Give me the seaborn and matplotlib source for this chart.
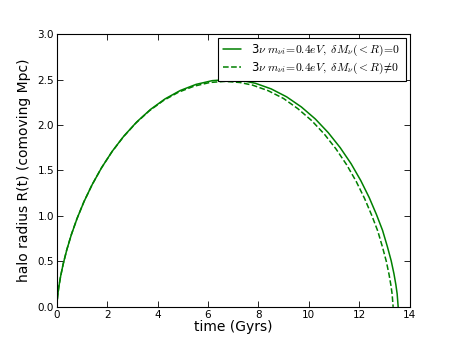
import numpy as np
import pandas as pd
import matplotlib
matplotlib.use("Agg")
import matplotlib.pyplot as plt
import seaborn as sns

# values
t_solid = [0, 0.0097, 0.0324, 0.0763, 0.1475, 0.2517, 0.3938, 0.578, 0.807, 1.084,
           1.409, 1.782, 2.202, 2.667, 3.174, 3.719, 4.297, 4.901, 5.526, 6.166,
           6.775, 7.372, 7.884, 8.512, 9.122, 9.706, 10.259, 10.775, 11.249, 11.680,
           12.064, 12.399, 12.686, 12.930, 13.120, 13.273, 13.383, 13.460, 13.510, 13.550]
r_solid = [0, 0.0559, 0.1245, 0.2184, 0.3354, 0.473, 0.628, 0.797, 0.976, 1.162,
           1.349, 1.534, 1.713, 1.881, 2.035, 2.172, 2.288, 2.380, 2.447, 2.488,
           2.500, 2.488, 2.459, 2.397, 2.310, 2.199, 2.067, 1.916, 1.751, 1.575,
           1.390, 1.203, 1.017, 0.842, 0.664, 0.507, 0.364, 0.242, 0.143, 0]

t_dash = [0, 0.0096, 0.0319, 0.0752, 0.1453, 0.248, 0.388, 0.569, 0.795, 1.068,
          1.388, 1.756, 2.169, 2.628, 3.127, 3.664, 4.233, 4.828, 5.444, 6.075,
          6.675, 7.263, 7.767, 8.386, 8.999, 9.562, 10.107, 10.616, 11.082, 11.507,
          11.885, 12.215, 12.498, 12.739, 12.926, 13.077, 13.185, 13.261, 13.310, 13.350]
r_dash = [0, 0.0555, 0.1235, 0.2167, 0.3327, 0.469, 0.623, 0.791, 0.968, 1.153,
          1.338, 1.522, 1.699, 1.866, 2.019, 2.155, 2.270, 2.361, 2.427, 2.468,
          2.480, 2.468, 2.439, 2.378, 2.292, 2.181, 2.051, 1.901, 1.737, 1.562,
          1.379, 1.193, 1.009, 0.835, 0.659, 0.503, 0.361, 0.240, 0.142, 0]

x_ticks = [0, 2, 4, 6, 8, 10, 12, 14]
y_ticks = [0.0, 0.5, 1.0, 1.5, 2.0, 2.5, 3.0]

lbl_solid = '3' + r'$\nu\ m_{\nu i}\!=\!0.4eV,\ \delta M_\nu(<R)\!=\!0$'
lbl_dash = '3' + r'$\nu\ m_{\nu i}\!=\!0.4eV,\ \delta M_\nu(<R)\!\neq\!0$'

sns.set_style("ticks")
plt.rcParams['font.family'] = ['DejaVu Sans']
plt.rcParams['mathtext.fontset'] = 'cm'
plt.rcParams['xtick.direction'] = 'in'
plt.rcParams['ytick.direction'] = 'in'
for k in ['text.color', 'axes.labelcolor', 'xtick.color', 'ytick.color']:
    plt.rcParams[k] = 'black'

df_s = pd.DataFrame({'t': t_solid, 'r': r_solid})
df_d = pd.DataFrame({'t': t_dash, 'r': r_dash})

fig = plt.figure(figsize=(4.55, 3.41), dpi=100)
ax = fig.add_axes([0.125, 0.1, 0.775, 0.8])

green = (0, 0.5, 0)
sns.lineplot(data=df_s, x='t', y='r', ax=ax, color=green, lw=1.1, sort=False,
             estimator=None, label=lbl_solid)
sns.lineplot(data=df_d, x='t', y='r', ax=ax, color=green, lw=1.1, sort=False,
             estimator=None, label=lbl_dash, linestyle='--')

ax.set_xlim(0, 14)
ax.set_ylim(0, 3.0)
ax.set_xticks(x_ticks)
ax.set_yticks(y_ticks)
ax.set_xticklabels([str(v) for v in x_ticks])
ax.set_yticklabels([f'{v:.1f}' for v in y_ticks])
ax.tick_params(labelsize=7.5, top=True, right=True, length=4, width=0.6, pad=2)
for s in ax.spines.values():
    s.set_linewidth(0.8)
    s.set_color('black')

ax.set_xlabel('time (Gyrs)', fontsize=10, labelpad=0)
ax.set_ylabel('halo radius R(t) (comoving Mpc)', fontsize=10, labelpad=5)

leg = ax.legend(loc='upper right', fontsize=8.4, frameon=True, fancybox=False,
                handlelength=1.5, handletextpad=0.9, borderaxespad=0.3,
                borderpad=0.45, labelspacing=0.2)
leg.get_frame().set_edgecolor('black')
leg.get_frame().set_linewidth(0.8)
leg.get_frame().set_alpha(1)

fig.savefig('out.png', dpi=100)
